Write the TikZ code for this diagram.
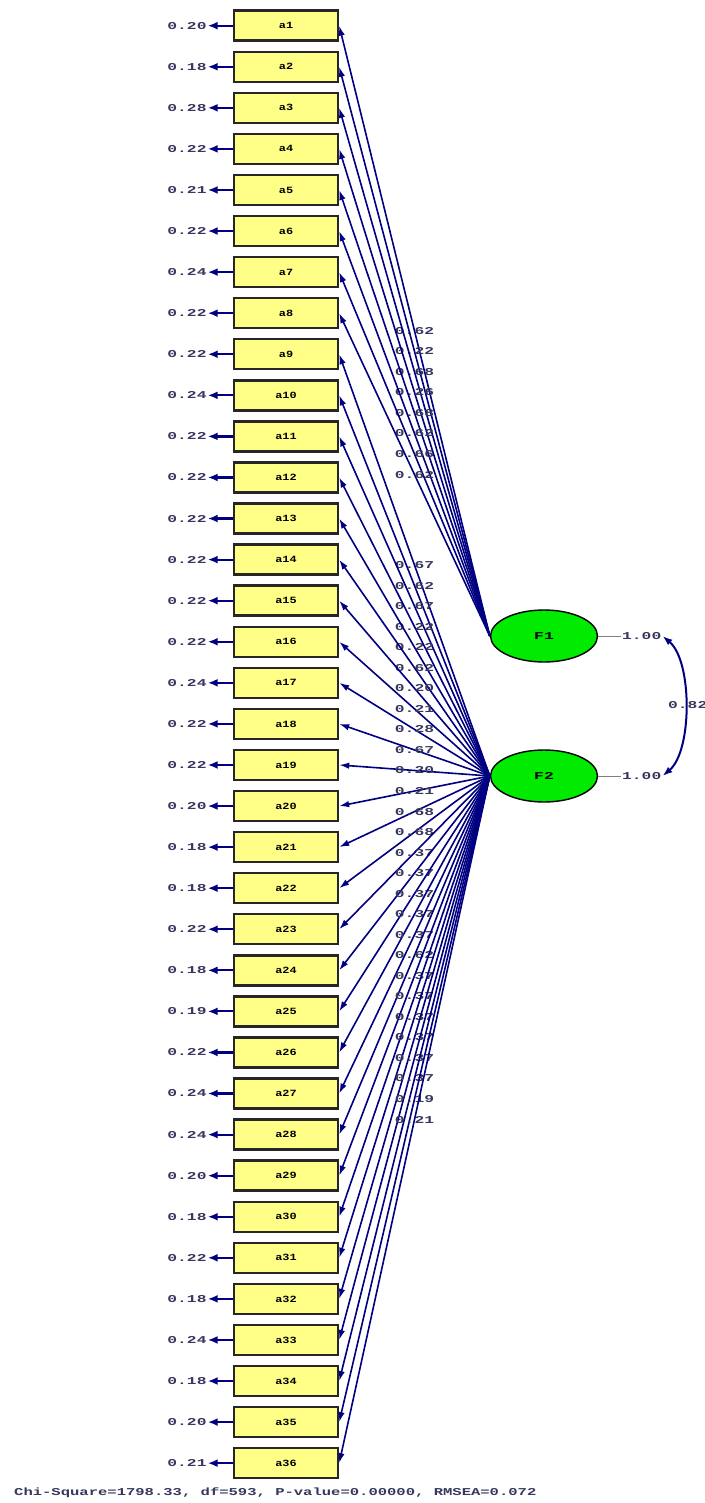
\documentclass[tikz,border=0pt]{standalone}
\usepackage{fontspec}
\newfontfamily\lis{Liberation Mono}
\usetikzlibrary{arrows.meta,calc,shapes.geometric}
\definecolor{navy}{RGB}{0,0,128}
\definecolor{boxy}{RGB}{255,255,136}
\definecolor{lime}{RGB}{0,235,0}
\definecolor{lbl}{RGB}{55,55,95}
\newcommand{\lt}[1]{\scalebox{1.55}[1]{\lis\bfseries\fontsize{10.5}{12}\selectfont #1}}
\newcommand{\ft}[1]{\scalebox{1.48}[1]{\lis\bfseries\fontsize{10.5}{12}\selectfont #1}}
\newcommand{\bx}[1]{\scalebox{1.25}[1]{\lis\bfseries\fontsize{9.5}{10}\selectfont #1}}
\tikzset{
  obs/.style={draw=black!85, line width=2.4pt, fill=boxy, minimum width=104pt, minimum height=30pt, inner sep=0pt},
  lat/.style={ellipse, draw=black, line width=1.4pt, fill=lime, minimum width=107pt, minimum height=52pt, inner sep=0pt},
  errl/.style={inner sep=1pt, text=lbl},
  lab/.style={inner sep=0pt, text=lbl},
  erra/.style={navy, line width=2.2pt, -{Latex[length=10pt,width=8pt]}},
  load/.style={navy, line width=1.6pt, -{Latex[length=10pt,width=6.5pt]}},
  corr/.style={navy, line width=2pt, {Latex[length=10pt,width=7pt]}-{Latex[length=10pt,width=7pt]}},
  varl/.style={gray, line width=0.8pt}
}
\begin{document}
\begin{tikzpicture}[x=1pt,y=-1pt]
\useasboundingbox (0,0) rectangle (704,1503);
\fill[white] (0,0) rectangle (704,1503);
\foreach \e [count=\i] in {0.20,0.18,0.28,0.22,0.21,0.22,0.24,0.22,0.22,0.24,0.22,0.22,0.22,0.22,0.22,0.22,0.24,0.22,0.22,0.20,0.18,0.18,0.22,0.18,0.19,0.22,0.24,0.24,0.20,0.18,0.22,0.18,0.24,0.18,0.20,0.21}{
  \pgfmathsetmacro\yy{25.7+(\i-1)*41.07}
  \node[obs] (b\i) at (286,\yy) {\bx{a\i}};
  \node[errl] (e\i) at (187,\yy) {\lt{\e}};
  \draw[erra] (b\i.west) -- (e\i.east);
}
\node[lat] (f1) at (544,636) {\lt{F1}};
\node[lat] (f2) at (544,776) {\lt{F2}};
\foreach \l [count=\i] in {0.62,0.22,0.68,0.26,0.68,0.62,0.66,0.62}{
  \draw[load] (f1.west) -- node[lab]{\lt{\l}} (b\i.east);
}
\foreach \l [count=\k] in {0.67,0.62,0.67,0.22,0.22,0.62,0.20,0.21,0.28,0.67,0.20,0.21,0.68,0.68,0.37,0.37,0.37,0.37,0.37,0.62,0.37,0.37,0.37,0.37,0.37,0.37,0.19,0.21}{
  \pgfmathtruncatemacro\j{\k+8}
  \draw[load] (f2.west) -- node[lab]{\lt{\l}} (b\j.east);
}
\node[errl, anchor=west] (v1) at (621,636) {\lt{1.00}};
\node[errl, anchor=west] (v2) at (621,776) {\lt{1.00}};
\draw[varl] (f1.east) -- (v1.west);
\draw[varl] (f2.east) -- (v2.west);
\draw[corr] (v1.east) .. controls ($(v1.east)+(30,25)$) and ($(v2.east)+(30,-25)$) .. (v2.east);
\node[errl, anchor=west] (c12) at (667,705) {\lt{0.82}};
\node[errl, anchor=west] (fit) at (13,1493) {\ft{Chi-Square=1798.33, df=593, P-value=0.00000, RMSEA=0.072}};
\end{tikzpicture}
\end{document}
